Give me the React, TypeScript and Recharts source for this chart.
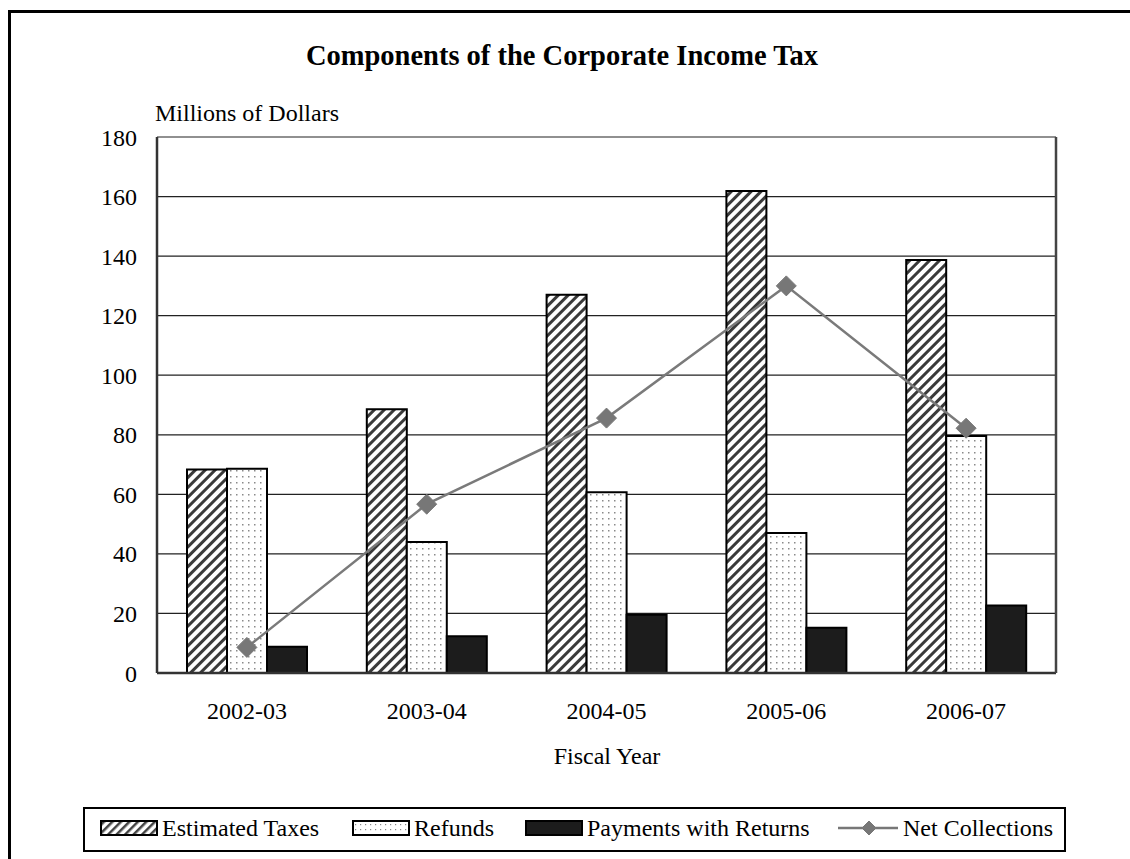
import React from "react"
import { ComposedChart, Bar, Line, XAxis, YAxis, CartesianGrid, Legend } from "recharts"

const years = ["2002-03", "2003-04", "2004-05", "2005-06", "2006-07"]
const estimatedTaxes = [68.3, 88.6, 127, 161.9, 138.7]
const refunds = [68.6, 44, 60.7, 47, 79.6]
const paymentsWithReturns = [8.8, 12.3, 19.6, 15.2, 22.7]
const netCollections = [8.6, 56.7, 85.6, 130, 82.2]
const yTicks = [0, 20, 40, 60, 80, 100, 120, 140, 160, 180]

const data = years.map((year, i) => ({
  year,
  estimated: estimatedTaxes[i],
  refunds: refunds[i],
  payments: paymentsWithReturns[i],
  net: netCollections[i],
}))

const FONT = "'Liberation Serif', 'Times New Roman', serif"

const Diamond = (props: any) => {
  const { cx, cy, size = 10 } = props
  if (cx == null || cy == null) return null
  const r = size
  return (
    <polygon
      points={`${cx},${cy - r} ${cx + r},${cy} ${cx},${cy + r} ${cx - r},${cy}`}
      fill="#777"
      stroke="#777"
    />
  )
}

const legendItems = [
  { label: "Estimated Taxes", x: 101, kind: "hatch" },
  { label: "Refunds", x: 353, kind: "dots" },
  { label: "Payments with Returns", x: 526, kind: "solid" },
  { label: "Net Collections", x: 838, kind: "line" },
]

const LegendBox = () => (
  <svg width={983} height={45} style={{ display: "block" }}>
    <rect x={1} y={1} width={981} height={43} fill="#fff" stroke="#000" strokeWidth={2} />
    {legendItems.map((it) => {
      const x = it.x - 83
      if (it.kind === "line") {
        return (
          <g key={it.label}>
            <line x1={x} x2={x + 60} y1={21} y2={21} stroke="#777" strokeWidth={2.5} />
            <Diamond cx={x + 31} cy={21} size={7} />
            <text x={x + 65} y={29} fontFamily={FONT} fontSize={24} fill="#000">
              {it.label}
            </text>
          </g>
        )
      }
      const fill =
        it.kind === "hatch" ? "url(#hatchLeg)" : it.kind === "dots" ? "url(#dotsLeg)" : "#1c1c1c"
      return (
        <g key={it.label}>
          <rect x={x} y={14} width={56} height={14} fill={fill} stroke="#000" strokeWidth={2} />
          <text x={x + 61} y={29} fontFamily={FONT} fontSize={24} fill="#000">
            {it.label}
          </text>
        </g>
      )
    })}
    <defs>
      <pattern id="hatchLeg" width="6" height="6" patternUnits="userSpaceOnUse" patternTransform="rotate(45)">
        <rect width="6" height="6" fill="#fff" />
        <rect width="2.5" height="6" fill="#444" />
      </pattern>
      <pattern id="dotsLeg" width="5" height="5" patternUnits="userSpaceOnUse">
        <rect width="5" height="5" fill="#fff" />
        <rect x="2" y="2" width="1.2" height="1.2" fill="#888" />
      </pattern>
    </defs>
  </svg>
)

export default function App() {
  return (
    <div
      style={{
        position: "fixed",
        left: 0,
        top: 0,
        width: 1130,
        height: 859,
        overflow: "hidden",
        background: "#fff",
        fontFamily: FONT,
      }}
    >
      <div
        style={{
          position: "absolute",
          left: 8,
          top: 10,
          width: 1200,
          height: 900,
          borderLeft: "3px solid #000",
          borderTop: "3px solid #000",
        }}
      />
      <div
        style={{
          position: "absolute",
          left: 0,
          width: 1130,
          top: 40,
          textAlign: "center",
          fontSize: 28.5,
          fontWeight: "bold",
          color: "#000",
          whiteSpace: "nowrap",
        }}
      >
        <span style={{ marginLeft: -6 }}>Components of the Corporate Income Tax</span>
      </div>
      <div style={{ position: "absolute", left: 155, top: 100, fontSize: 24, color: "#000", whiteSpace: "nowrap" }}>
        Millions of Dollars
      </div>
      <div
        style={{
          position: "absolute",
          left: 157,
          width: 900,
          top: 743,
          textAlign: "center",
          fontSize: 24,
          color: "#000",
        }}
      >
        Fiscal Year
      </div>
      <div style={{ position: "absolute", left: 0, top: 0 }}>
        <ComposedChart
          width={1130}
          height={859}
          data={data}
          margin={{ top: 137, right: 73, left: 97, bottom: 91 }}
          barCategoryGap={30}
          barGap={0}
        >
          <defs>
            <pattern id="hatch" width="7" height="7" patternUnits="userSpaceOnUse" patternTransform="rotate(45)">
              <rect width="7" height="7" fill="#fff" />
              <rect width="3" height="7" fill="#3a3a3a" />
            </pattern>
            <pattern id="dots" width="6" height="6" patternUnits="userSpaceOnUse">
              <rect width="6" height="6" fill="#fff" />
              <rect x="2" y="2" width="1.5" height="1.5" fill="#8a8a8a" />
            </pattern>
          </defs>
          <CartesianGrid vertical={false} stroke="#222" strokeWidth={1.2} />
          <XAxis
            dataKey="year"
            axisLine={{ stroke: "#333", strokeWidth: 2.5 }}
            tickLine={false}
            tickSize={25}
            tickMargin={4}
            height={50}
            tick={{ fontFamily: FONT, fontSize: 24, fill: "#000" }}
          />
          <YAxis
            domain={[0, 180]}
            ticks={yTicks}
            interval={0}
            width={60}
            axisLine={{ stroke: "#333", strokeWidth: 2.5 }}
            tickLine={false}
            tickSize={18}
            tickMargin={2}
            tick={{ fontFamily: FONT, fontSize: 24, fill: "#000" }}
          />
          <YAxis
            yAxisId="right"
            orientation="right"
            domain={[0, 180]}
            width={1}
            tick={false}
            tickLine={false}
            axisLine={{ stroke: "#444", strokeWidth: 2.5 }}
          />
          <Bar dataKey="estimated" name="Estimated Taxes" fill="url(#hatch)" stroke="#000" strokeWidth={2} isAnimationActive={false} />
          <Bar dataKey="refunds" name="Refunds" fill="url(#dots)" stroke="#000" strokeWidth={2} isAnimationActive={false} />
          <Bar dataKey="payments" name="Payments with Returns" fill="#1c1c1c" stroke="#000" strokeWidth={2} isAnimationActive={false} />
          <Line
            type="linear"
            dataKey="net"
            name="Net Collections"
            stroke="#7a7a7a"
            strokeWidth={2.5}
            dot={<Diamond size={10} />}
            activeDot={false}
            isAnimationActive={false}
          />
          <Legend
            content={() => <LegendBox />}
            wrapperStyle={{ position: "absolute", left: 83, top: 807, width: 983, height: 45, bottom: "auto" }}
          />
        </ComposedChart>
      </div>
    </div>
  )
}
